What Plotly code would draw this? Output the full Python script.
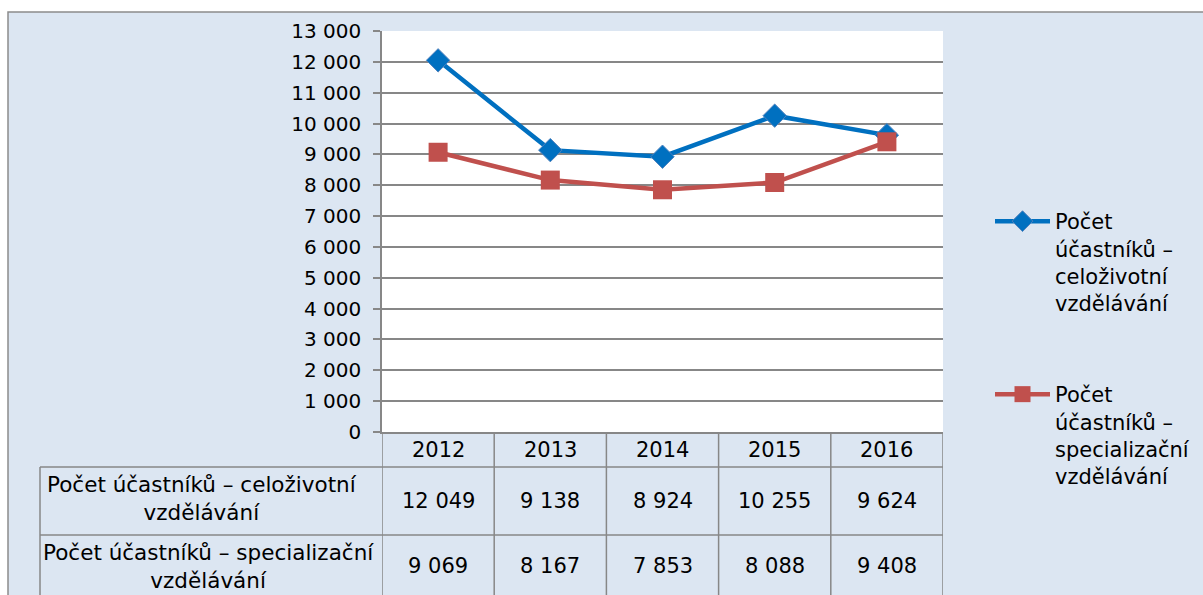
import plotly.graph_objects as go

years = ["2012", "2013", "2014", "2015", "2016"]
celozivotni = [12049, 9138, 8924, 10255, 9624]
specializacni = [9069, 8167, 7853, 8088, 9408]
legend_celo = "Počet<br>účastníků –<br>celoživotní<br>vzdělávání"
legend_spec = "Počet<br>účastníků –<br>specializační<br>vzdělávání"
table_celo = "Počet účastníků – celoživotní<br>vzdělávání"
table_spec = "Počet účastníků – specializační<br>vzdělávání"
y_ticks = list(range(0, 13001, 1000))

BLUE = "#0070C0"
RED = "#C0504D"
BG = "#DCE6F2"
GRID = "#878787"
FONT = "DejaVu Sans"
FS = 21

# pixel geometry helpers (plot area: x 382..943, y 31..432)
PL, PR, PT, PB = 382, 943, 31, 432
W, H = 1203, 595
def px(x):
    return (x - PL) / (PR - PL)
def py(y):
    return (PB - y) / (PB - PT)

fig = go.Figure()
fig.add_trace(go.Scatter(
    x=years, y=celozivotni, name=legend_celo, mode="lines+markers",
    line=dict(color=BLUE, width=4.5),
    marker=dict(symbol="diamond", size=18, color=BLUE, line=dict(color="#4F81BD", width=1)),
    legend="legend",
))
fig.add_trace(go.Scatter(
    x=years, y=specializacni, name=legend_spec, mode="lines+markers",
    line=dict(color=RED, width=4.5),
    marker=dict(symbol="square", size=19, color=RED),
    legend="legend2",
))

def fmt(v):
    return f"{v:,}".replace(",", " ")

shapes = []
# white strips outside the outer border
shapes.append(dict(type="rect", xref="paper", yref="paper", x0=px(-5), x1=px(W + 5), y0=py(12), y1=py(-5),
                   fillcolor="white", line=dict(width=0), layer="above"))
shapes.append(dict(type="rect", xref="paper", yref="paper", x0=px(-5), x1=px(8), y0=py(H + 5), y1=py(-5),
                   fillcolor="white", line=dict(width=0), layer="above"))
# outer border
shapes.append(dict(type="rect", xref="paper", yref="paper", x0=px(8), x1=px(W + 20), y0=py(12), y1=py(H + 20),
                   line=dict(color="#8C8C8C", width=1.5), layer="above"))

# table vertical lines (category boundaries)
for i in range(len(years) + 1):
    shapes.append(dict(type="line", xref="x", yref="paper", x0=i - 0.5, x1=i - 0.5,
                       y0=0, y1=py(H + 20), line=dict(color=GRID, width=1.5)))
# left label column boundary
shapes.append(dict(type="line", xref="paper", yref="paper", x0=px(40), x1=px(40),
                   y0=py(467), y1=py(H + 20), line=dict(color=GRID, width=1.5)))
# horizontal row lines
for yy in (467, 535):
    shapes.append(dict(type="line", xref="paper", yref="paper", x0=px(40), x1=1,
                       y0=py(yy), y1=py(yy), line=dict(color=GRID, width=1.5)))

tf = dict(family=FONT, size=FS, color="black")
lf = dict(family=FONT, size=21.5, color="black")
ann = dict(showarrow=False, font=tf, xanchor="center", yanchor="middle", align="center")
annotations = []
for i, yr in enumerate(years):
    annotations.append(dict(x=i, y=py(450), xref="x", yref="paper", text=yr, **ann))
    annotations.append(dict(x=i, y=py(501), xref="x", yref="paper", text=fmt(celozivotni[i]), **ann))
    annotations.append(dict(x=i, y=py(566), xref="x", yref="paper", text=fmt(specializacni[i]), **ann))
lab = dict(ann, font=lf)
annotations.append(dict(x=px(202), y=py(499), xref="paper", yref="paper", text=table_celo, **lab))
annotations.append(dict(x=px(208), y=py(566), xref="paper", yref="paper", text=table_spec, **lab))

fig.update_layout(
    width=W, height=H,
    margin=dict(l=PL, r=W - PR, t=PT, b=H - PB, autoexpand=False),
    paper_bgcolor=BG, plot_bgcolor="white",
    separators=", ",
    font=tf,
    shapes=shapes, annotations=annotations,
    xaxis=dict(type="category", range=[-0.5, 4.5], showticklabels=False, showgrid=False,
               showline=True, linecolor=GRID, linewidth=1.5, ticks="", zeroline=False),
    yaxis=dict(range=[0, 13000], tickvals=y_ticks, tickformat=",d", showgrid=True, gridcolor=GRID,
               gridwidth=1.5, showline=True, linecolor=GRID, linewidth=1.5, ticks="outside",
               ticklen=7, tickcolor=GRID, tickwidth=1.5, zeroline=False,
               tickfont=dict(family=FONT, size=20, color="black"), ticklabelstandoff=8),
    legend=dict(x=px(990), y=py(201), xanchor="left", yanchor="top", valign="top",
                bgcolor="rgba(0,0,0,0)", font=tf, itemwidth=55),
    legend2=dict(x=px(990), y=py(374), xanchor="left", yanchor="top", valign="top",
                 bgcolor="rgba(0,0,0,0)", font=tf, itemwidth=55),
    showlegend=True,
)

fig.write_html("out.html", config={"displayModeBar": False},
               post_script="document.body.style.margin='0';")
